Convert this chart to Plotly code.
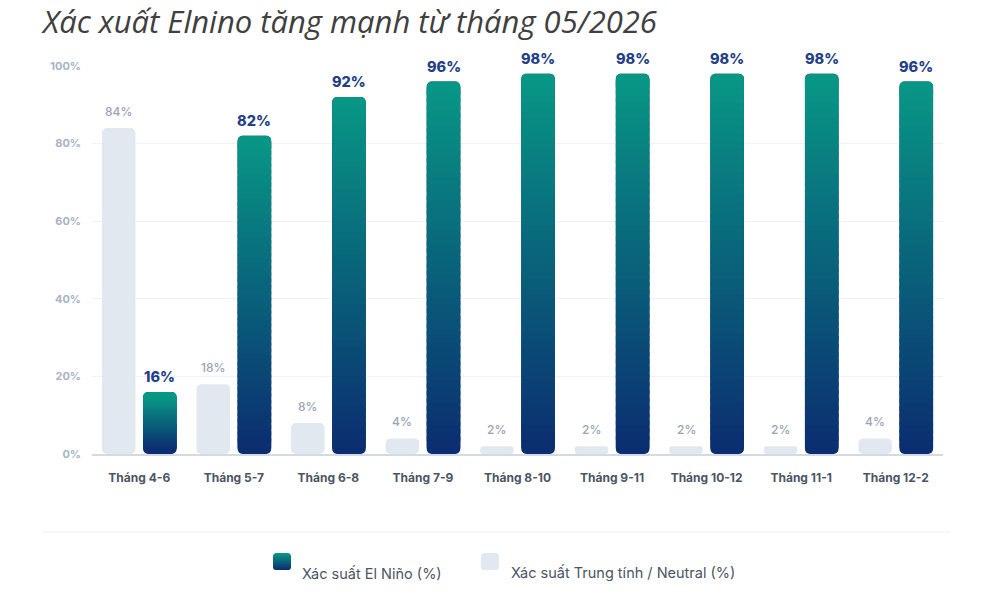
import math
import plotly.graph_objects as go

# ---------------- data ----------------
categories = ["Tháng 4-6", "Tháng 5-7", "Tháng 6-8", "Tháng 7-9", "Tháng 8-10",
              "Tháng 9-11", "Tháng 10-12", "Tháng 11-1", "Tháng 12-2"]
elnino = [16, 82, 92, 96, 98, 98, 98, 98, 96]
neutral = [84, 18, 8, 4, 2, 2, 2, 2, 4]
y_tick_values = [0, 20, 40, 60, 80, 100]
y_tick_labels = ["0%", "20%", "40%", "60%", "80%", "100%"]
title_text = "Xác xuất Elnino tăng mạnh từ tháng 05/2026"
legend_labels = ["Xác suất El Niño (%)", "Xác suất Trung tính / Neutral (%)"]

# ---------------- style ----------------
W, H = 1000, 594
ML, MR, MT, MB = 92, 57, 66, 140
Y_MAX = 100
PX_PER_UNIT = (H - MT - MB) / Y_MAX
TOP = (8, 150, 133)
BOTTOM = (11, 46, 112)
NEUTRAL = "#e2e8f0"
RADIUS = 5
N_SEG = 48
NEU_OFF, NEU_W = -0.395, 0.355
ELN_OFF, ELN_W = 0.04, 0.355
FONT = "Inter"

x = list(range(len(categories)))


def rgb(t):
    c = [round(BOTTOM[j] + (TOP[j] - BOTTOM[j]) * t) for j in range(3)]
    return "rgb(%d,%d,%d)" % tuple(c)


def px_paper_x(px):
    return (px - ML) / (W - ML - MR)


def px_paper_y(py):
    return (H - MB - py) / (H - MT - MB)


fig = go.Figure()
bar_common = dict(hoverinfo="skip", showlegend=False)
zeros = [0] * len(categories)

# neutral bars (explicit base -> all four corners rounded)
fig.add_trace(go.Bar(x=x, y=neutral, base=zeros, offset=NEU_OFF, width=NEU_W,
                     marker=dict(color=NEUTRAL, cornerradius=RADIUS, line=dict(width=0)),
                     **bar_common))

# El Nino bars: rounded bottom-colour bar, rounded top-colour cap, gradient body
fig.add_trace(go.Bar(x=x, y=elnino, base=zeros, offset=ELN_OFF, width=ELN_W,
                     marker=dict(color=rgb(0), cornerradius=RADIUS, line=dict(width=0)),
                     **bar_common))
r_d = RADIUS / PX_PER_UNIT + 0.2
cap = 3 * r_d
fig.add_trace(go.Bar(x=x, y=[cap] * len(elnino), base=[v - cap for v in elnino],
                     offset=ELN_OFF, width=ELN_W,
                     marker=dict(color=rgb(1), cornerradius=RADIUS, line=dict(width=0)),
                     **bar_common))

for k in range(N_SEG):
    bases, heights = [], []
    for v in elnino:
        h = (v - 2 * r_d) / N_SEG
        lo = r_d + k * h
        hh = h * 1.6 if k < N_SEG - 1 else h
        bases.append(lo)
        heights.append(hh)
    frac = (k + 0.5) / N_SEG
    fig.add_trace(go.Bar(x=x, y=heights, base=bases, offset=ELN_OFF, width=ELN_W,
                         marker=dict(color=rgb(frac), line=dict(width=0)),
                         **bar_common))

annotations = []
for i, v in enumerate(elnino):
    annotations.append(dict(x=i + ELN_OFF + ELN_W / 2, y=v, xref="x", yref="y",
                            text="%d%%" % v, showarrow=False, yanchor="bottom", yshift=5,
                            font=dict(family=FONT, size=14.5, color="#233f86", weight=800)))
for i, v in enumerate(neutral):
    annotations.append(dict(x=i + NEU_OFF + NEU_W / 2, y=v, xref="x", yref="y",
                            text="%d%%" % v, showarrow=False, yanchor="bottom", yshift=7,
                            font=dict(family=FONT, size=12, color="#9aa4b5", weight=500)))

# ---------------- custom legend ----------------
shapes = [dict(type="line", xref="paper", yref="paper",
               x0=px_paper_x(43), x1=px_paper_x(950), y0=px_paper_y(532), y1=px_paper_y(532),
               line=dict(color="#eff1f4", width=1))]


def swatch(x0, y0, w, h, color_fn, r=3.5):
    for j in range(h):
        yc = j + 0.5
        d = 0.0
        if yc < r:
            d = r - math.sqrt(max(r * r - (r - yc) ** 2, 0))
        elif yc > h - r:
            d = r - math.sqrt(max(r * r - (yc - (h - r)) ** 2, 0))
        t = 1 - j / max(h - 1, 1)
        shapes.append(dict(type="rect", xref="paper", yref="paper", layer="above",
                           x0=px_paper_x(x0 + d), x1=px_paper_x(x0 + w - d),
                           y0=px_paper_y(y0 + j + (1.5 if j < h - 1 else 1)), y1=px_paper_y(y0 + j),
                           fillcolor=color_fn(t), line=dict(width=0)))


swatch(273, 553, 18, 17, rgb)
swatch(481, 553, 18, 17, lambda t: NEUTRAL)

for lx, lab in zip([300, 509], legend_labels):
    annotations.append(dict(x=px_paper_x(lx), y=px_paper_y(573), xref="paper", yref="paper",
                            text=lab, showarrow=False, xanchor="left", yanchor="middle",
                            font=dict(family=FONT, size=14.5, color="#4b5563")))

fig.update_layout(
    width=W, height=H,
    margin=dict(l=ML, r=MR, t=MT, b=MB),
    paper_bgcolor="white", plot_bgcolor="white",
    barmode="overlay",
    title=dict(text=title_text, x=43 / W, xanchor="left", xref="container",
               y=1 - 22 / H, yanchor="middle", yref="container",
               font=dict(family="Open Sans", size=31, color="#404040", style="italic")),
    xaxis=dict(range=[-0.5, len(categories) - 0.5], tickmode="array", tickvals=x,
               ticktext=categories, showgrid=False, zeroline=False,
               showline=True, linecolor="#d3dae4", linewidth=1.5, ticks="",
               ticklabelstandoff=12,
               tickfont=dict(family=FONT, size=12, color="#4b5563", weight="bold")),
    yaxis=dict(range=[0, Y_MAX], tickmode="array", tickvals=y_tick_values,
               ticktext=y_tick_labels, showgrid=True, gridcolor="#eff2f6", gridwidth=1,
               zeroline=False, showline=False, ticks="", ticklabelstandoff=10,
               tickfont=dict(family=FONT, size=11, color="#a8b3c5", weight="bold")),
    annotations=annotations,
    shapes=shapes,
)

fig.write_html("out.html")
